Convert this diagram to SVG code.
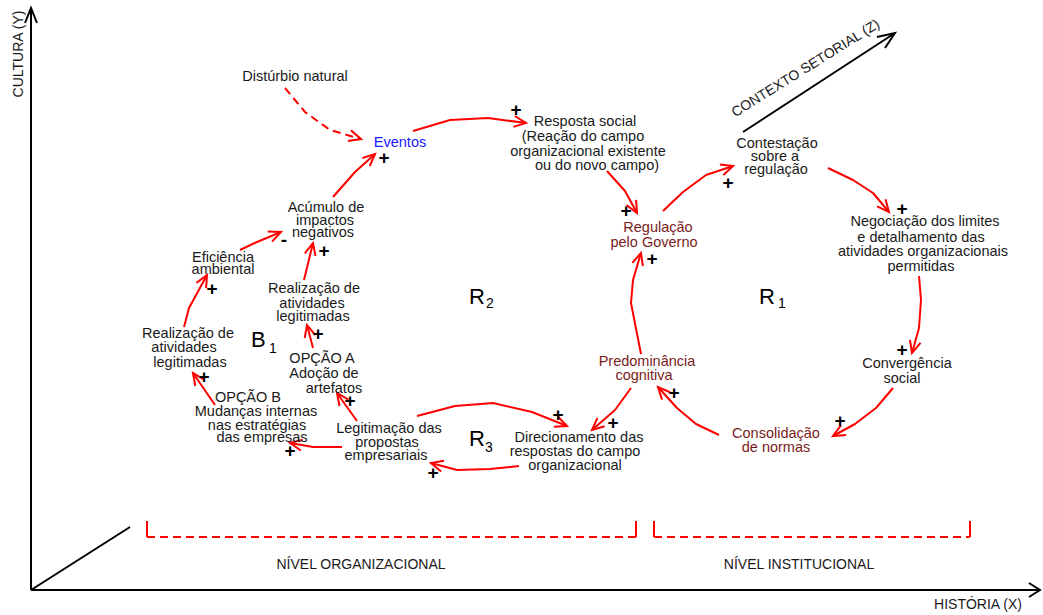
<svg xmlns="http://www.w3.org/2000/svg" width="1043" height="615" viewBox="0 0 1043 615">
  <style>
    text { font-family: "Liberation Sans", Arial, sans-serif; font-size: 14.5px; fill: #1a1a1a; text-anchor: middle; }
    .inst { fill: #7a1c1c; }
    .ev { fill: #2020ff; }
    .axis-label { font-size: 14px; }
    .sign { font-size: 19px; font-weight: bold; fill: #000; }
    .loop { font-size: 22px; fill: #000; text-anchor: start; }
    .sub { font-size: 14px; fill: #000; text-anchor: start; }
    .axis { stroke: #000; stroke-width: 2; fill: none; }
    .link { stroke: #ff0000; stroke-width: 2; fill: none; stroke-linejoin: round; marker-end: url(#head); }
    .dashed { stroke-dasharray: 8 5; }
    .bracket { stroke: #ff0000; stroke-width: 2; fill: none; }
  </style>
  <defs>
    <marker id="head" markerUnits="userSpaceOnUse" markerWidth="16" markerHeight="14" refX="0" refY="0" viewBox="-14 -7 16 14" orient="auto" overflow="visible">
      <path d="M-12,-5.5 L0,0 L-12,5.5" fill="none" stroke="#ff0000" stroke-width="2" stroke-linejoin="miter"/>
    </marker>
  </defs>

  <rect width="1043" height="615" fill="#ffffff"/>

  <!-- axes -->
  <g id="axes">
    <path class="axis" d="M31,590 L31,8 M25,23 L31,8 L37,23"/>
    <path class="axis" d="M31,590 L1040,590 M1029,583 L1040,590 L1029,597"/>
    <path class="axis" d="M31,590 L130,527"/>
    <path class="axis" d="M743,132 L895,33 M877,37 L895,33 L885,48"/>
    <text class="axis-label" transform="translate(23,54) rotate(-90)">CULTURA (Y)</text>
    <text class="axis-label" x="978" y="609">HISTÓRIA (X)</text>
    <text class="axis-label" transform="translate(808,72) rotate(-32)">CONTEXTO SETORIAL (Z)</text>
  </g>

  <!-- level brackets -->
  <g id="levels">
    <path class="bracket" d="M147,521 L147,537 M636,521 L636,537 M654,521 L654,537 M970,521 L970,537"/>
    <path class="bracket dashed" d="M147,537 L636,537 M654,537 L970,537"/>
    <text class="axis-label" x="361" y="569">NÍVEL ORGANIZACIONAL</text>
    <text class="axis-label" x="799" y="569">NÍVEL INSTITUCIONAL</text>
  </g>

  <!-- loop labels -->
  <g id="loops">
    <text class="loop" x="251" y="347">B</text><text class="sub" x="269" y="353">1</text>
    <text class="loop" x="469" y="304">R</text><text class="sub" x="486" y="308">2</text>
    <text class="loop" x="469" y="446">R</text><text class="sub" x="485" y="452">3</text>
    <text class="loop" x="759" y="304">R</text><text class="sub" x="778" y="308">1</text>
  </g>

  <!-- connectors -->
  <g id="connectors">
    <path class="link dashed" d="M285,88 L305,112 L330,130 L361,139"/>
    <path class="link" d="M333,197 L355,172 L375,154"/>
    <path class="link" d="M413,131 L450,120 L488,118 L526,123"/>
    <path class="link" d="M607,171 L625,191 L637,213"/>
    <path class="link" d="M663,211 L683,192 L706,175 L733,166"/>
    <path class="link" d="M828,168 L853,180 L873,193 L889,212"/>
    <path class="link" d="M919,276 L921,300 L919,328 L912,353"/>
    <path class="link" d="M893,388 L876,408 L855,424 L833,436"/>
    <path class="link" d="M719,435 L696,424 L677,408 L658,387"/>
    <path class="link" d="M641,354 L631,303 L633,280 L641,253"/>
    <path class="link" d="M631,388 L615,410 L592,430"/>
    <path class="link" d="M417,416 L455,406 L493,403 L532,412 L567,426"/>
    <path class="link" d="M519,466 L490,469 L457,470 L431,463"/>
    <path class="link" d="M342,447 L313,447 L290,443"/>
    <path class="link" d="M357,421 L337,393"/>
    <path class="link" d="M215,405 L193,373"/>
    <path class="link" d="M313,348 L307,325"/>
    <path class="link" d="M304,280 L313,243"/>
    <path class="link" d="M184,327 L189,308 L207,275"/>
    <path class="link" d="M240,250 L257,242 L281,232"/>
  </g>

  <!-- nodes -->
  <g id="disturbio">
    <text x="295" y="81">Distúrbio natural</text>
  </g>
  <g id="eventos">
    <text class="ev" x="400" y="147">Eventos</text>
    <text class="sign" x="384" y="164">+</text>
  </g>
  <g id="resposta-social">
    <text x="585" y="126">Resposta social</text>
    <text x="583" y="141">(Reação do campo</text>
    <text x="588" y="155.5">organizacional existente</text>
    <text x="597" y="170">ou do novo campo)</text>
    <text class="sign" x="516" y="116">+</text>
  </g>
  <g id="regulacao">
    <text class="inst" x="658" y="232">Regulação</text>
    <text class="inst" x="654" y="247">pelo Governo</text>
    <text class="sign" x="626" y="217">+</text>
    <text class="sign" x="652" y="265">+</text>
  </g>
  <g id="contestacao">
    <text x="777" y="148">Contestação</text>
    <text x="775" y="161">sobre a</text>
    <text x="776" y="174">regulação</text>
    <text class="sign" x="728" y="189">+</text>
  </g>
  <g id="negociacao">
    <text x="925" y="226">Negociação dos limites</text>
    <text x="921" y="241.5">e detalhamento das</text>
    <text x="923" y="256">atividades organizacionais</text>
    <text x="921" y="271">permitidas</text>
    <text class="sign" x="902" y="215">+</text>
  </g>
  <g id="convergencia">
    <text x="907" y="368">Convergência</text>
    <text x="902" y="383">social</text>
    <text class="sign" x="902" y="356">+</text>
  </g>
  <g id="consolidacao">
    <text class="inst" x="776" y="438">Consolidação</text>
    <text class="inst" x="776" y="452">de normas</text>
    <text class="sign" x="840" y="427">+</text>
  </g>
  <g id="predominancia">
    <text class="inst" x="647" y="366">Predominância</text>
    <text class="inst" x="644" y="380">cognitiva</text>
    <text class="sign" x="674" y="399">+</text>
  </g>
  <g id="direcionamento">
    <text x="579" y="442">Direcionamento das</text>
    <text x="575" y="456">respostas do campo</text>
    <text x="575" y="469.5">organizacional</text>
    <text class="sign" x="558" y="421">+</text>
    <text class="sign" x="613" y="429">+</text>
  </g>
  <g id="legitimacao">
    <text x="389" y="433">Legitimação das</text>
    <text x="387" y="447">propostas</text>
    <text x="386" y="460">empresariais</text>
    <text class="sign" x="433" y="479">+</text>
  </g>
  <g id="opcao-a">
    <text x="322" y="363">OPÇÃO A</text>
    <text x="324" y="378">Adoção de</text>
    <text x="334" y="393">artefatos</text>
    <text class="sign" x="350" y="407">+</text>
  </g>
  <g id="opcao-b">
    <text x="248" y="402">OPÇÃO B</text>
    <text x="256" y="416">Mudanças internas</text>
    <text x="257" y="430">nas estratégias</text>
    <text x="262" y="442">das empresas</text>
    <text class="sign" x="290" y="457">+</text>
  </g>
  <g id="realizacao-b">
    <text x="188" y="338">Realização de</text>
    <text x="184" y="352">atividades</text>
    <text x="190" y="366.5">legitimadas</text>
    <text class="sign" x="204" y="383">+</text>
  </g>
  <g id="realizacao-a">
    <text x="314" y="293">Realização de</text>
    <text x="312" y="308">atividades</text>
    <text x="313" y="321">legitimadas</text>
    <text class="sign" x="318" y="340">+</text>
  </g>
  <g id="eficiencia">
    <text x="223" y="262">Eficiência</text>
    <text x="223" y="274">ambiental</text>
    <text class="sign" x="212" y="295">+</text>
  </g>
  <g id="acumulo">
    <text x="326" y="211.5">Acúmulo de</text>
    <text x="325" y="224.5">impactos</text>
    <text x="323" y="237">negativos</text>
    <text class="sign" x="284" y="246">-</text>
    <text class="sign" x="324" y="257">+</text>
  </g>
</svg>
